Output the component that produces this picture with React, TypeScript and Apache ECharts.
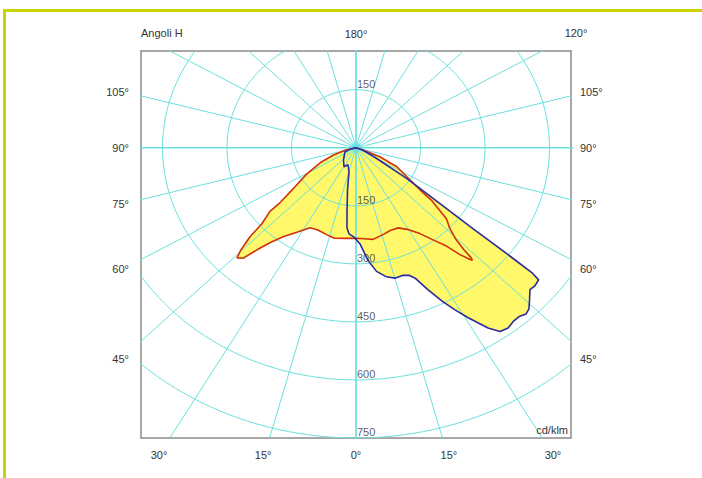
import React, { useEffect, useRef } from 'react';
import * as echarts from 'echarts';

// ---- axis / grid values (cd/klm and degrees) ----
const xMin = -500;
const xMax = 500;
const yMin = -750;
const yMax = 250;
const circleRadii = [150, 300, 450, 600, 750];
const spokeAngles = [0, 15, 30, 45, 60, 75, 90, 105, 120, 135, 150, 165, 180, 195, 210, 225, 240, 255, 270, 285, 300, 315, 330, 345];
const spokeLength = 1000;

const bottomAngleLabels = ['30°', '15°', '0°', '15°', '30°'];
const bottomLabelAnchors = [-458, -216, 0, 216, 458];
const topAngleLabels = ['180°'];
const topLabelAnchors = [0];
const sideAngleLabels = ['105°', '90°', '75°', '60°', '45°'];
const sideLabelAnchors = [145, 0, -145, -313, -545];
const radiusLabelsUp = [150];
const radiusLabelsDown = [150, 300, 450, 600, 750];

// ---- photometric curves: gamma (deg, 0 = nadir) and intensity (cd/klm) ----
const redGamma = [-90, -76, -70, -65, -59, -54, -51.2, -50.6, -48.1, -47, -45.4, -44.2, -42.6, -41.1, -39.2, -36.4, -32.2, -27.4, -22.6, -16.7, -12.4, -5.1, 0.6, 6.2, 9.5, 15.6, 20.4, 25.3, 29.4, 33.8, 37, 39.7, 41.2, 42.6, 43, 43.3, 43.6, 44.4, 46.2, 48.9, 50.2, 52.2, 53.3, 56.6, 62.7, 67.3, 69.5, 90];
const redIntensity = [0, 26, 57, 92, 136, 181, 227, 259, 294, 337, 376, 397, 388, 350, 317, 286, 258, 233, 230, 235, 239, 235, 234, 237, 240, 233, 228, 229, 242, 267, 298, 331, 367, 392, 397, 390, 364, 333, 303, 279, 254, 224, 194, 150, 107, 60, 27, 0];

const blueGamma = [-90, -74.4, -68.1, -43.2, -29.6, -23, -14.7, -10.3, -7.4, -5.8, -4.2, -1.15, 2.1, 5.5, 8.5, 12, 15.1, 18.35, 20.5, 22.2, 24.5, 26.8, 28.8, 30.7, 33.4, 35.2, 37.2, 39.1, 41, 42.6, 44, 45.8, 47.8, 49.4, 51.2, 51.7, 52, 52.4, 53.5, 56, 61, 70, 90];
const blueIntensity = [0, 14.5, 27.6, 42.5, 56.5, 47.7, 64.1, 110, 162, 208, 223, 231, 248, 293, 323, 341, 349, 347, 352, 364, 403, 444, 478, 511, 558, 581, 585, 579, 578, 584, 579, 563, 546, 548, 545, 523, 449, 345, 243, 143, 48, 15, 0];

const FONT = "'Liberation Sans', Arial, sans-serif";
const TEXT = '#333333';
const GRIDC = '#6ae0de';

function toXY(g: number, r: number): number[] {
  const a = (g * Math.PI) / 180;
  return [r * Math.sin(a), -r * Math.cos(a)];
}

function curve(gs: number[], is: number[]): number[][] {
  return gs.map((g, k) => toXY(g, is[k]));
}

export default function App() {
  const ref = useRef<HTMLDivElement>(null);
  useEffect(() => {
    if (!ref.current) return;
    const chart = echarts.init(ref.current, null, { renderer: 'svg' });
    const red = curve(redGamma, redIntensity);
    const blue = curve(blueGamma, blueIntensity);

    const circleSeries = circleRadii.map((r) => {
      const pts: number[][] = [];
      for (let d = 0; d <= 360; d += 2) pts.push(toXY(d, r));
      return {
        type: 'line',
        data: pts,
        symbol: 'none',
        silent: true,
        clip: true,
        z: 2,
        lineStyle: { color: GRIDC, width: 1 },
      };
    });
    const spokeSeries = spokeAngles.map((a) => ({
      type: 'line',
      data: [[0, 0], toXY(a, spokeLength)],
      symbol: 'none',
      silent: true,
      clip: true,
      z: 2,
      lineStyle: { color: GRIDC, width: a % 90 === 0 ? 1.7 : 1 },
    }));

    const fillSeries = (pts: number[][]) => ({
      type: 'custom',
      coordinateSystem: 'cartesian2d',
      data: pts,
      silent: true,
      z: 1,
      renderItem: (params: any, api: any) => {
        if (params.dataIndex !== 0) return null;
        return {
          type: 'polygon',
          shape: { points: pts.map((p) => api.coord(p)) },
          style: { fill: '#fff86a', stroke: 'none' },
        };
      },
    });

    const outline = (pts: number[][], color: string, z: number) => ({
      type: 'line',
      data: pts,
      symbol: 'none',
      silent: true,
      z,
      lineStyle: { color, width: 1.6 },
    });

    const radiusData = [
      ...radiusLabelsUp.map((r) => [0, r, String(r)]),
      ...radiusLabelsDown.map((r) => [0, -r, String(r)]),
    ];

    const axisLabelBase = { color: TEXT, fontSize: 11, fontFamily: FONT };

    chart.setOption({
      animation: false,
      backgroundColor: '#ffffff',
      grid: {
        left: 141,
        top: 51,
        width: 430,
        height: 387,
        show: true,
        borderColor: '#8a8a8a',
        borderWidth: 1.5,
        backgroundColor: 'transparent',
      },
      xAxis: [
        {
          type: 'value', min: xMin, max: xMax, position: 'bottom',
          axisLine: { show: false }, axisTick: { show: false }, splitLine: { show: false },
          axisLabel: {
            ...axisLabelBase, margin: 11, customValues: bottomLabelAnchors,
            formatter: (v: number) => bottomAngleLabels[bottomLabelAnchors.indexOf(v)] ?? '',
          },
        },
        {
          type: 'value', min: xMin, max: xMax, position: 'top',
          axisLine: { show: false }, axisTick: { show: false }, splitLine: { show: false },
          axisLabel: {
            ...axisLabelBase, margin: 12, customValues: topLabelAnchors,
            formatter: (v: number) => topAngleLabels[topLabelAnchors.indexOf(v)] ?? '',
          },
        },
      ],
      yAxis: [
        {
          type: 'value', min: yMin, max: yMax, position: 'left',
          axisLine: { show: false }, axisTick: { show: false }, splitLine: { show: false },
          axisLabel: {
            ...axisLabelBase, margin: 12, customValues: sideLabelAnchors,
            formatter: (v: number) => sideAngleLabels[sideLabelAnchors.indexOf(v)] ?? '',
          },
        },
        {
          type: 'value', min: yMin, max: yMax, position: 'right',
          axisLine: { show: false }, axisTick: { show: false }, splitLine: { show: false },
          axisLabel: {
            ...axisLabelBase, margin: 9, customValues: sideLabelAnchors,
            formatter: (v: number) => sideAngleLabels[sideLabelAnchors.indexOf(v)] ?? '',
          },
        },
      ],
      graphic: [
        { type: 'rect', shape: { x: 3, y: 9, width: 699, height: 3 }, style: { fill: '#c8d400' }, silent: true },
        { type: 'rect', shape: { x: 3, y: 9, width: 3, height: 469 }, style: { fill: '#c8d400' }, silent: true },
        { type: 'text', x: 141, y: 33, style: { text: 'Angoli H', fill: TEXT, font: `11px ${FONT}`, align: 'left', verticalAlign: 'middle' } },
        { type: 'text', x: 576, y: 33, style: { text: '120°', fill: TEXT, font: `11px ${FONT}`, align: 'center', verticalAlign: 'middle' } },
        { type: 'text', x: 568, y: 430, z: 100, style: { text: 'cd/klm', fill: TEXT, font: `11px ${FONT}`, align: 'right', verticalAlign: 'middle' } },
      ],
      series: [
        fillSeries(blue),
        fillSeries(red),
        ...circleSeries,
        ...spokeSeries,
        {
          type: 'scatter',
          data: [[0, 0]],
          symbolSize: 9,
          silent: true,
          z: 3,
          itemStyle: { color: 'rgba(90, 225, 235, 0.75)' },
        },
        outline(red, '#d0300c', 4),
        outline(blue, '#2b2b9c', 5),
        {
          type: 'scatter',
          data: radiusData,
          symbolSize: 0,
          silent: true,
          z: 6,
          itemStyle: { color: TEXT },
          label: {
            show: true,
            position: [1, -6],
            align: 'left',
            verticalAlign: 'middle',
            color: TEXT,
            textBorderWidth: 0,
            textBorderColor: 'transparent',
            fontSize: 11,
            fontFamily: FONT,
            formatter: (p: any) => p.data[2],
          },
        },
      ],
    });
    return () => chart.dispose();
  }, []);
  return (
    <div
      ref={ref}
      style={{ position: 'fixed', left: 0, top: 0, width: 702, height: 478, background: '#ffffff' }}
    />
  );
}
